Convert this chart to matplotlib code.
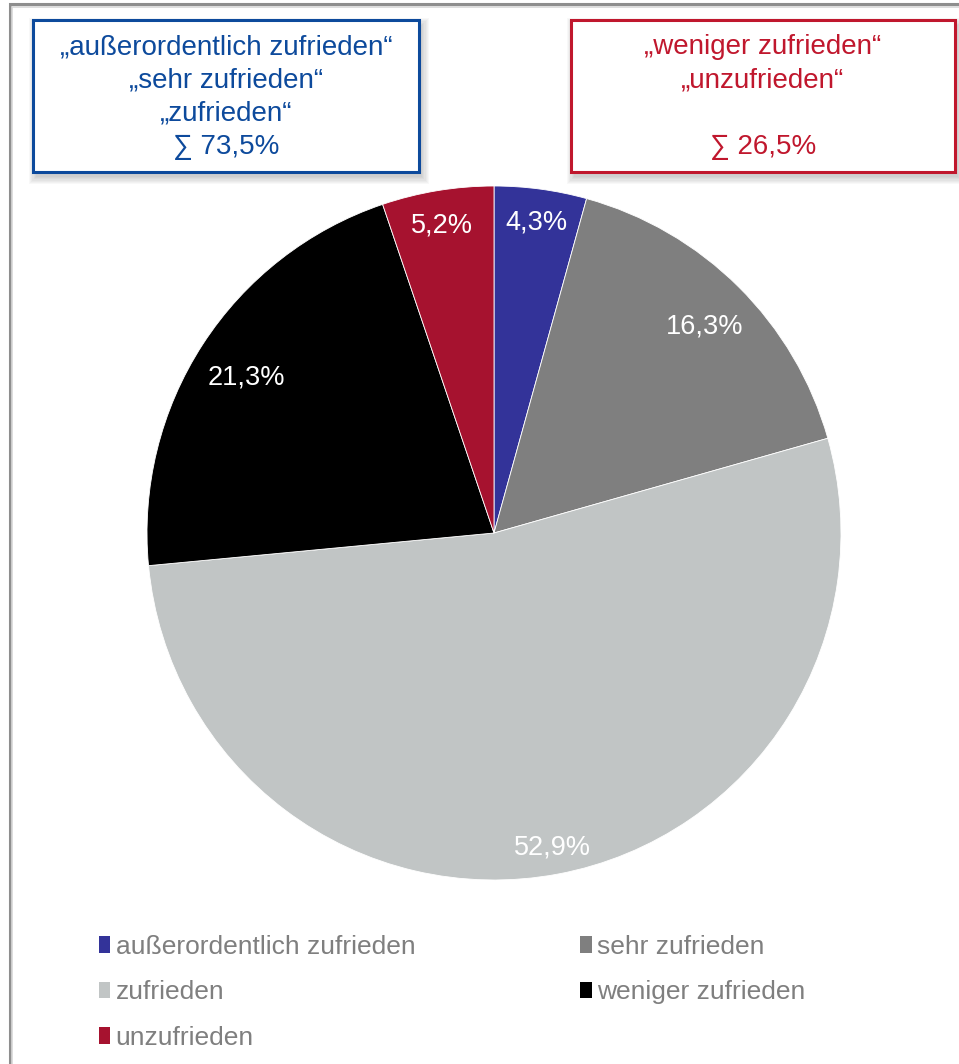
import matplotlib
matplotlib.use("Agg")
import matplotlib.pyplot as plt
from matplotlib.patches import Rectangle, Patch
import numpy as np

plt.rcParams['font.family'] = ['Liberation Sans', 'DejaVu Sans']

# Satisfaction shares (percent)
categories = ["außerordentlich zufrieden", "sehr zufrieden", "zufrieden",
              "weniger zufrieden", "unzufrieden"]
shares = [4.3, 16.3, 52.9, 21.3, 5.2]
colors = ["#333399", "#7F7F7F", "#C1C5C5", "#000000", "#A6122F"]

positive_lines = ["„außerordentlich zufrieden“", "„sehr zufrieden“", "„zufrieden“"]
negative_lines = ["„weniger zufrieden“", "„unzufrieden“"]
positive_sum = sum(shares[:3])
negative_sum = sum(shares[3:])

W, H = 959, 1064
fig = plt.figure(figsize=(W / 100, H / 100), dpi=100)
fig.patch.set_facecolor("white")


def px(x, y):
    """Pixel position measured from the top-left corner -> figure fraction."""
    return x / W, 1 - y / H


# outer frame
fig.patches.append(Rectangle(px(10, 1080), 980 / W, 1076 / H,
                             transform=fig.transFigure, fill=False,
                             edgecolor="#8E8E8E", linewidth=2.2, zorder=0))
fig.patches.append(Rectangle(px(12, 1080), 980 / W, 1073 / H,
                             transform=fig.transFigure, fill=False,
                             edgecolor="#D8D8D8", linewidth=1.2, zorder=0))

# pie
ax = fig.add_axes([147 / W, 1 - 880 / H, 694 / W, 694 / H])
wedges, texts = ax.pie(shares, colors=colors, startangle=90, counterclock=False,
                       wedgeprops=dict(edgecolor="white", linewidth=0.6),
                       radius=1.0)
ax.set_xlim(-1, 1)
ax.set_ylim(-1, 1)
ax.set_aspect("equal")
ax.axis("off")

# value labels placed just inside the outer edge of each wedge
fig.canvas.draw()
renderer = fig.canvas.get_renderer()
r_px = 347.0
for w, v in zip(wedges, shares):
    ang = np.deg2rad((w.theta1 + w.theta2) / 2)
    t = ax.text(0, 0, f"{v:.1f}%".replace(".", ","), color="white",
                fontsize=19.5, ha="center", va="center")
    bb = t.get_window_extent(renderer)
    hw, hh = bb.width / 2, bb.height / 2
    extent = abs(np.cos(ang)) * hw + abs(np.sin(ang)) * hh
    d = (r_px - extent - 12) / r_px
    t.set_position((d * np.cos(ang), d * np.sin(ang) - 5 / r_px))


def summary_box(x0, y0, x1, y1, lines, color):
    # soft drop shadow
    for i in range(7):
        g = i * 1.2
        fig.patches.append(Rectangle(px(x0 + 3 - g, y1 + 5 + g),
                                     (x1 - x0 + 2 * g) / W,
                                     (y1 - y0 + 2 * g) / H,
                                     transform=fig.transFigure,
                                     facecolor="black", alpha=0.028,
                                     edgecolor="none", zorder=1))
    fig.patches.append(Rectangle(px(x0, y1), (x1 - x0) / W, (y1 - y0) / H,
                                 transform=fig.transFigure,
                                 facecolor="white", edgecolor=color,
                                 linewidth=2.2, zorder=2))
    cx = (x0 + x1) / 2
    for i, line in enumerate(lines):
        if line:
            fig.text(*px(cx, 47 + 33.3 * i), line, color=color, fontsize=20,
                     ha="center", va="center", zorder=3)


summary_box(33, 20, 419, 172,
            positive_lines + [f"∑ {positive_sum:.1f}%".replace(".", ",")],
            "#0D4A9C")
summary_box(571, 20, 955, 172,
            negative_lines + ["", f"∑ {negative_sum:.1f}%".replace(".", ",")],
            "#C0172D")

# legend, filled row by row
handles = [Patch(facecolor=c, edgecolor="none") for c in colors]
order = [0, 2, 4, 1, 3]
leg = fig.legend([handles[i] for i in order], [categories[i] for i in order],
                 ncol=2, loc="upper left", bbox_to_anchor=px(88, 924),
                 frameon=False, fontsize=19, labelcolor="#7F7F7F",
                 handlelength=0.45, handleheight=0.6, handletextpad=0.2,
                 columnspacing=6.25, labelspacing=0.82, borderaxespad=0)

fig.savefig("out.png", dpi=100, facecolor="white")
